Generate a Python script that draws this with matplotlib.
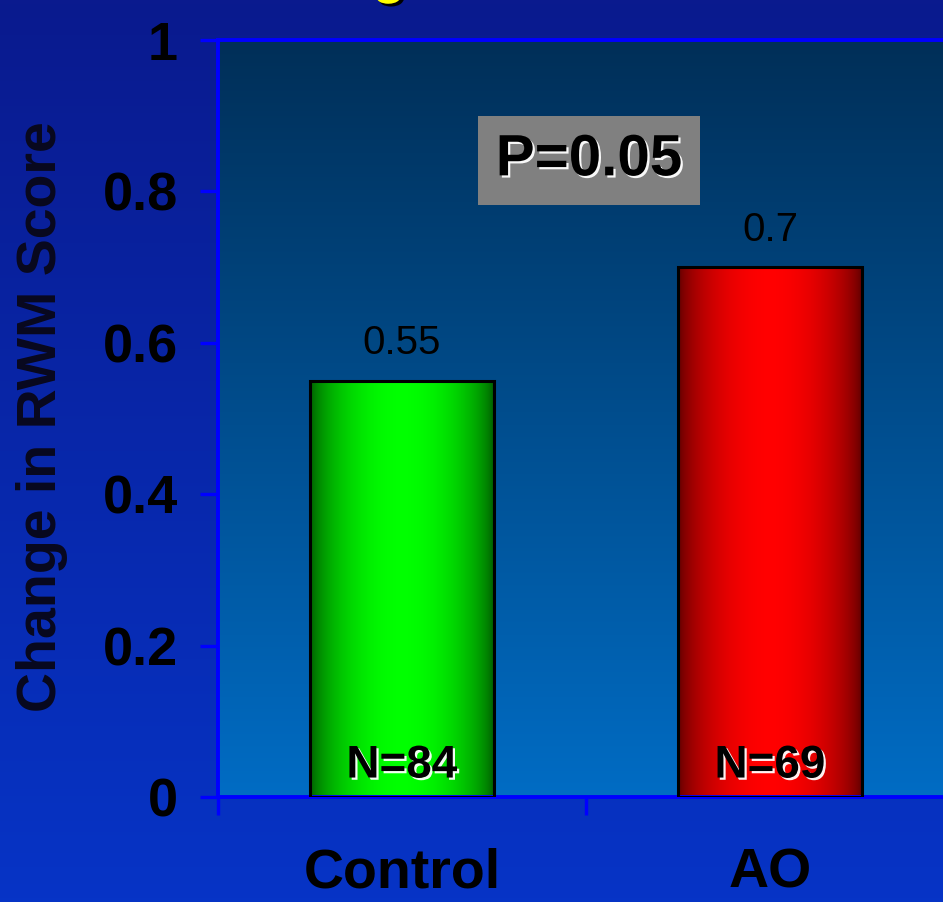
import numpy as np
import matplotlib
matplotlib.use("Agg")
import matplotlib.pyplot as plt
import matplotlib.patheffects as pe
from matplotlib.colors import LinearSegmentedColormap

plt.rcParams["font.family"] = ["Liberation Sans", "DejaVu Sans"]

# Data
groups = ["Control", "AO"]
changes = [0.55, 0.70]
n_patients = [84, 69]
p_text = "P=0.05"
y_ticks = [0, 0.2, 0.4, 0.6, 0.8, 1.0]
y_tick_labels = ["0", "0.2", "0.4", "0.6", "0.8", "1"]
bar_colors = [("#005400", "#00ff00"), ("#580000", "#ff0000")]

BLUE = "#0000ff"
W, H = 943, 902

fig = plt.figure(figsize=(W / 100, H / 100), dpi=100)

# Slide background (vertical gradient)
bg = fig.add_axes([0, 0, 1, 1], zorder=-10)
bg.axis("off")
grad = np.linspace(0, 1, 256).reshape(-1, 1)
bg.imshow(grad, cmap=LinearSegmentedColormap.from_list("bg", ["#0a1a8e", "#0634c6"]),
          aspect="auto", extent=(0, 1, 0, 1), origin="upper")

# Cut-off yellow title letter at the very top of the slide crop
fig.text(389 / W, 1 + 8 / H, "g", color="#ffff00", fontsize=40, fontweight="bold",
         ha="center", va="baseline",
         path_effects=[pe.SimplePatchShadow(offset=(2, -2), shadow_rgbFace="black", alpha=1),
                       pe.Normal()])

ax = fig.add_axes([218 / W, 105 / H, 736 / W, 757 / H])
ax.patch.set_visible(False)

# Plot area gradient
ax.imshow(grad, cmap=LinearSegmentedColormap.from_list("ax", ["#002f58", "#006cc4"]),
          aspect="auto", extent=(0, 1, 0, 1), origin="upper",
          transform=ax.transAxes, zorder=0)

x = np.arange(len(groups))
bars = ax.bar(x, changes, width=0.5, facecolor="none", edgecolor="black",
              linewidth=2.2, zorder=3)

t = np.linspace(0, 1, 300)
shade = np.clip(np.sin(np.pi * t) ** 0.6, 0, 1).reshape(1, -1)
shadow_white = [pe.SimplePatchShadow(offset=(1.6, -1.6), shadow_rgbFace="white", alpha=0.95),
                pe.Normal()]

for bar, (dark, bright), val, n in zip(bars, bar_colors, changes, n_patients):
    x0, w, h = bar.get_x(), bar.get_width(), bar.get_height()
    cm = LinearSegmentedColormap.from_list("bar", [dark, bright])
    ax.imshow(shade, cmap=cm, vmin=0, vmax=1, aspect="auto",
              extent=(x0, x0 + w, 0, h), zorder=2)
    ax.annotate(f"{val:g}", (x0 + w / 2, h), xytext=(0, 19), textcoords="offset points",
                ha="center", va="baseline", fontsize=29, color="black", zorder=5)
    ax.annotate(f"N={n}", (x0 + w / 2, 0), xytext=(0, 14), textcoords="offset points",
                ha="center", va="baseline", fontsize=33, fontweight="bold",
                color="black", zorder=5, path_effects=shadow_white)

ax.text(0.508, 0.841, p_text, ha="center", va="center", fontsize=42, fontweight="bold",
        color="black", zorder=5, path_effects=shadow_white,
        bbox=dict(boxstyle="square,pad=0.3", fc="#808080", ec="none"))

ax.set_xlim(-0.5, 1.5)
ax.set_ylim(0, 1)

ax.set_yticks(y_ticks)
ax.set_yticklabels(y_tick_labels, fontsize=39, fontweight="bold")
ax.tick_params(axis="y", direction="out", length=13, width=2.4, color=BLUE,
               pad=16, labelcolor="black")

ax.set_xticks(x)
ax.set_xticklabels(groups, fontsize=40, fontweight="bold")
ax.tick_params(axis="x", which="major", length=0, pad=36, labelcolor="black")
ax.set_xticks([-0.5, 0.5, 1.5], minor=True)
ax.tick_params(axis="x", which="minor", direction="out", length=13, width=2.4, color=BLUE)

for sp in ax.spines.values():
    sp.set_color(BLUE)
    sp.set_linewidth(2.8)

fig.text(42 / W, 1 - 417 / H, "Change in RWM Score", rotation=90, ha="center",
         va="center", fontsize=40, fontweight="bold", color="#08081e")

fig.savefig("out.png", dpi=100)
